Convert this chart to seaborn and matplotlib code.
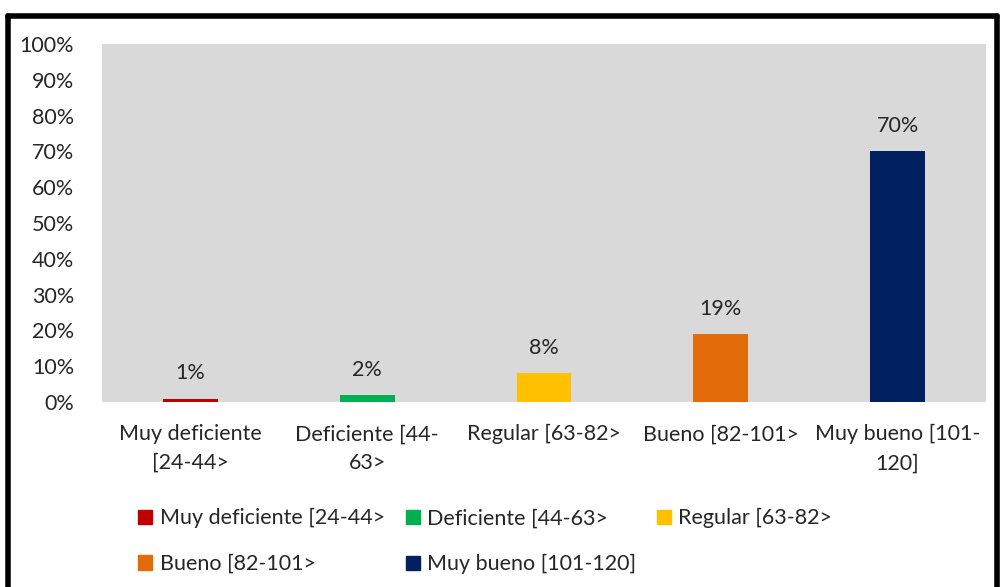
import matplotlib
matplotlib.use("Agg")
import matplotlib.pyplot as plt
from matplotlib.lines import Line2D
import seaborn as sns
import pandas as pd

categories = ["Muy deficiente [24-44>", "Deficiente [44-63>", "Regular [63-82>",
              "Bueno [82-101>", "Muy bueno [101-120]"]
tick_labels = ["Muy deficiente\n[24-44>", "Deficiente [44-\n63>", "Regular [63-82>",
               "Bueno [82-101>", "Muy bueno [101-\n120]"]
values = [1, 2, 8, 19, 70]
colors = ["#C00000", "#00B050", "#FFC000", "#E36C0A", "#002060"]

df = pd.DataFrame({"cat": categories, "val": values})

sns.set_theme(style="white")
plt.rcParams["font.family"] = ["Lato", "DejaVu Sans"]
fs = 15.5
txt = "#262626"

fig = plt.figure(figsize=(10.03, 5.87), dpi=100)
ax = fig.add_axes([0.1017, 0.315, 0.8813, 0.61])
ax.set_facecolor("#D9D9D9")

sns.barplot(data=df, x="cat", y="val", hue="cat", palette=colors, width=0.31,
            dodge=False, legend=False, saturation=1, linewidth=0, ax=ax)

for cont in ax.containers:
    ax.bar_label(cont, labels=[f"{v:.0f}%" for v in cont.datavalues], padding=11,
                 fontsize=fs, color=txt)

ax.set_ylim(0, 100)
ax.set_yticks(range(0, 101, 10))
ax.set_yticklabels([f"{t}%" for t in range(0, 101, 10)], fontsize=fs, color=txt)
ax.set_xticks(range(len(categories)))
ax.set_xticklabels(tick_labels, fontsize=fs, color=txt, linespacing=1.55)
ax.tick_params(axis="y", length=0, pad=20)
ax.tick_params(axis="x", length=0, pad=16)
ax.set_xlabel("")
ax.set_ylabel("")
for s in ax.spines.values():
    s.set_visible(False)

# legend, row order via column-major reorder
handles = [plt.Rectangle((0, 0), 1, 1, color=c) for c in colors]
order = [0, 3, 1, 4, 2]
fig.legend([handles[i] for i in order], [categories[i] for i in order],
           ncol=3, loc="upper left", bbox_to_anchor=(0.123, 0.16),
           frameon=False, fontsize=fs, handlelength=0.65, handleheight=0.65,
           handletextpad=0.35, columnspacing=0.95, labelspacing=1.2,
           labelcolor=txt, borderpad=0.2)

# black frame (top, left, right)
fig.add_artist(Line2D([0.008, 0.994], [0.973, 0.973], color="black", lw=4,
                      transform=fig.transFigure))
fig.add_artist(Line2D([0.008, 0.008], [0.0, 0.973], color="black", lw=4,
                      transform=fig.transFigure))
fig.add_artist(Line2D([0.994, 0.994], [0.0, 0.973], color="black", lw=4,
                      transform=fig.transFigure))

fig.savefig("out.png", dpi=100)
